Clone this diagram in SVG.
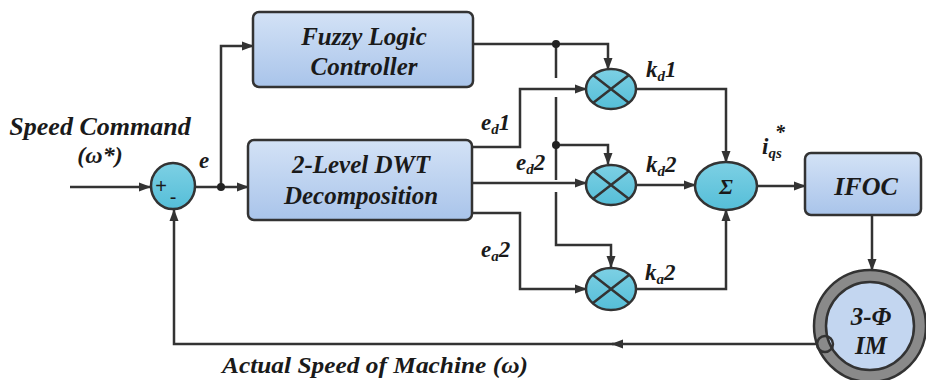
<svg xmlns="http://www.w3.org/2000/svg" width="926" height="380" viewBox="0 0 926 380">
<defs>
<linearGradient id="boxg" x1="0" y1="0" x2="0" y2="1">
<stop offset="0" stop-color="#d3e2f6"/>
<stop offset="1" stop-color="#a9c4ea"/>
</linearGradient>
<linearGradient id="cirg" x1="0" y1="0" x2="0" y2="1">
<stop offset="0" stop-color="#7dd0e4"/>
<stop offset="1" stop-color="#55bed8"/>
</linearGradient>
<marker id="ah" markerWidth="12" markerHeight="10" refX="11" refY="5" orient="auto" markerUnits="userSpaceOnUse">
<path d="M0,0.5 L12,5 L0,9.5 z" fill="#333"/>
</marker>
</defs>
<style>
.box{fill:url(#boxg);stroke:#333;stroke-width:2.5}
.cir{fill:url(#cirg);stroke:#333;stroke-width:2.5}
.ln{fill:none;stroke:#333;stroke-width:2.5}
.ar{marker-end:url(#ah)}
.dot{fill:#222}
.t{font-family:'Liberation Serif','Times New Roman',serif;font-weight:bold;font-style:italic;fill:#1a1a1a}
.big{font-size:25px}
.lab{font-size:23px}
.sub{font-size:15px}
.sg{font-family:'Liberation Sans',Arial,sans-serif;font-size:20px;fill:#1a1a1a}
</style>

<g id="connectors">
<path class="ln ar" d="M70,187 H150"/>
<path class="ln ar" d="M195,187 H248"/>
<path class="ln ar" d="M221,187 V46 H253"/>
<path class="ln ar" d="M473,44 H608 V69"/>
<path class="ln" d="M556,44 V78"/>
<path class="ln ar" d="M556,97 V145 H608 V164"/>
<path class="ln" d="M556,145 V180"/>
<path class="ln ar" d="M556,192 V245 H611 V267"/>
<path class="ln ar" d="M472,147 H520 V89 H586"/>
<path class="ln ar" d="M472,183 H586"/>
<path class="ln ar" d="M472,213 H520 V289 H586"/>
<path class="ln ar" d="M637,89 H726 V162"/>
<path class="ln ar" d="M637,185 H695"/>
<path class="ln ar" d="M637,289 H726 V210"/>
<path class="ln ar" d="M757,186 H805"/>
<path class="ln ar" d="M872,215 V270"/>
<path class="ln ar" d="M817,344 H612"/>
<path class="ln ar" d="M614,344 H174 V210"/>
<circle class="dot" cx="221" cy="187" r="4"/>
<circle class="dot" cx="556" cy="44" r="4"/>
<circle class="dot" cx="556" cy="145" r="4"/>
</g>

<g id="sum1">
<ellipse class="cir" cx="173" cy="186" rx="22" ry="23"/>
<text class="sg" x="161" y="193" text-anchor="middle">+</text>
<text class="sg" x="173" y="204" text-anchor="middle">-</text>
</g>

<g id="fuzzy">
<rect class="box" x="253" y="12" width="220" height="75" rx="6"/>
<text class="t big" x="364" y="45" text-anchor="middle">Fuzzy Logic</text>
<text class="t big" x="364" y="75" text-anchor="middle">Controller</text>
</g>

<g id="dwt">
<rect class="box" x="248" y="140" width="224" height="80" rx="6"/>
<text class="t big" x="361" y="173" text-anchor="middle">2-Level DWT</text>
<text class="t big" x="361" y="204" text-anchor="middle">Decomposition</text>
</g>

<g id="mult1">
<ellipse class="cir" cx="611" cy="89" rx="25" ry="20"/>
<path class="ln" d="M593,75 L629,103 M629,75 L593,103"/>
</g>
<g id="mult2">
<ellipse class="cir" cx="611" cy="185" rx="25" ry="20"/>
<path class="ln" d="M593,171 L629,199 M629,171 L593,199"/>
</g>
<g id="mult3">
<ellipse class="cir" cx="611" cy="289" rx="25" ry="21"/>
<path class="ln" d="M593,275 L629,303 M629,275 L593,303"/>
</g>

<g id="sum2">
<ellipse class="cir" cx="726" cy="186" rx="31" ry="24"/>
<text class="t" x="726" y="194" font-size="22" text-anchor="middle">Σ</text>
</g>

<g id="ifoc">
<rect class="box" x="805" y="153" width="116" height="62" rx="6"/>
<text class="t" x="866" y="195" font-size="26" text-anchor="middle">IFOC</text>
</g>

<g id="motor">
<circle cx="870" cy="326" r="56" fill="#8a8a8a" stroke="#333" stroke-width="2.5"/>
<circle cx="870" cy="326" r="44" fill="#c3d6f0" stroke="#333" stroke-width="2.5"/>
<circle cx="825" cy="344" r="8" fill="none" stroke="#333" stroke-width="2.5"/>
<text class="t big" x="871" y="325" text-anchor="middle">3-Φ</text>
<text class="t big" x="871" y="354" text-anchor="middle">IM</text>
</g>

<g id="labels">
<text class="t" x="100" y="135" font-size="26" text-anchor="middle">Speed Command</text>
<text class="t" x="100" y="163" font-size="24" text-anchor="middle">(ω*)</text>
<text class="t lab" x="199" y="168">e</text>
<text class="t lab" x="481" y="130">e<tspan class="sub" dy="4">d</tspan><tspan dy="-4">1</tspan></text>
<text class="t lab" x="516" y="170">e<tspan class="sub" dy="4">d</tspan><tspan dy="-4">2</tspan></text>
<text class="t lab" x="481" y="257">e<tspan class="sub" dy="4">a</tspan><tspan dy="-4">2</tspan></text>
<text class="t lab" x="646" y="77">k<tspan class="sub" dy="4">d</tspan><tspan dy="-4">1</tspan></text>
<text class="t lab" x="646" y="172">k<tspan class="sub" dy="4">d</tspan><tspan dy="-4">2</tspan></text>
<text class="t lab" x="645" y="280">k<tspan class="sub" dy="4">a</tspan><tspan dy="-4">2</tspan></text>
<text class="t lab" x="762" y="154">i<tspan class="sub" dy="4">qs</tspan><tspan font-size="20" x="775" dy="-19">*</tspan></text>
<text class="t" x="222" y="373" font-size="24" textLength="306" lengthAdjust="spacingAndGlyphs">Actual Speed of Machine (ω)</text>
</g>
</svg>
